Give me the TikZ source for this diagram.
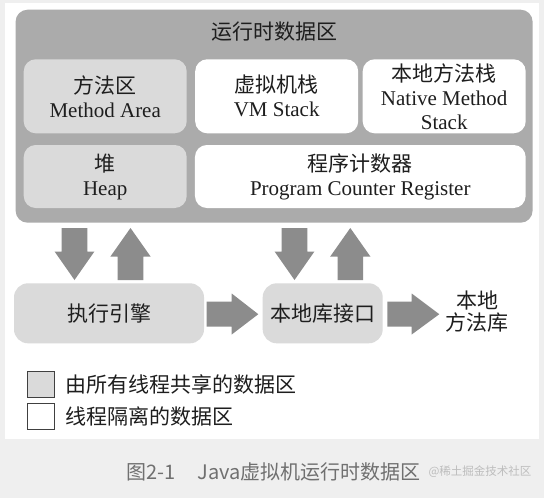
\documentclass[tikz,border=0pt]{standalone}
\usepackage{fontspec}
\setmainfont{Liberation Serif}
\newfontfamily\cjk{Noto Sans CJK SC}
\definecolor{bggray}{HTML}{EFEFEF}
\definecolor{outergray}{HTML}{ABABAB}
\definecolor{sharedgray}{HTML}{DADADA}
\definecolor{arrowgray}{HTML}{8C8C8C}
\definecolor{textcol}{HTML}{1E1E1E}
\definecolor{capcol}{HTML}{707070}
\definecolor{markcol}{HTML}{BDBDBD}
\newcommand\blkdown[1]{%
  \fill[blockarrow] ({#1-12.8},228) -- ({#1+12.8},228) -- ({#1+12.8},251.7) -- ({#1+19.8},251.7)
    -- (#1,280) -- ({#1-19.8},251.7) -- ({#1-12.8},251.7) -- cycle;}
\newcommand\blkup[1]{%
  \fill[blockarrow] ({#1-12.8},280) -- ({#1+12.8},280) -- ({#1+12.8},256.7) -- ({#1+20.2},256.7)
    -- (#1,228) -- ({#1-20.2},256.7) -- ({#1-12.8},256.7) -- cycle;}
\newcommand\blkright[3]{%
  \fill[blockarrow] (#1,301.7) -- (#2,301.7) -- (#2,293.5) -- (#3,314.2) -- (#2,334.5)
    -- (#2,326.7) -- (#1,326.7) -- cycle;}
\begin{document}
\begin{tikzpicture}[x=1pt,y=-1pt,
  lbl/.style={font=\fontsize{21}{24}\selectfont, text=textcol, align=center},
  area/.style={lbl, rounded corners=12pt, inner sep=0pt},
  shared/.style={area, fill=sharedgray},
  private/.style={area, fill=white},
  blockarrow/.style={fill=arrowgray},
  legendbox/.style={draw=black!75, line width=0.9pt, inner sep=0pt, minimum width=27pt, minimum height=25.5pt},
  legendtext/.style={lbl, anchor=west, inner sep=0pt}]
\useasboundingbox (0,0) rectangle (544,498);
\fill[bggray] (0,0) rectangle (544,498);
\fill[white] (5,3) rectangle (539,439);

% runtime data area
\node[area, fill=outergray, minimum width=517pt, minimum height=213pt] (rt) at (274.1,116.2) {};
\node[lbl] (title) at (274.1,32) {\cjk 运行时数据区};
\node[shared, minimum width=163pt, minimum height=74pt] (ma) at (105.2,96.3) {{\cjk 方法区}\\Method Area};
\node[private, minimum width=163pt, minimum height=74pt] (vm) at (276.7,96.3) {{\cjk 虚拟机栈}\\VM Stack};
\node[private, minimum width=163pt, minimum height=74pt] (nm) at (444.2,96.3) {{\cjk 本地方法栈}\\Native Method\\Stack};
\node[shared, minimum width=163pt, minimum height=63pt] (heap) at (105.2,176.5) {{\cjk 堆}\\Heap};
\node[private, minimum width=330.7pt, minimum height=63pt] (pc) at (360.3,176.5) {{\cjk 程序计数器}\\Program Counter Register};

% lower row
\node[shared, rounded corners=14pt, minimum width=190pt, minimum height=60pt] (exec) at (109,313.3) {\cjk 执行引擎};
\node[shared, rounded corners=14pt, minimum width=120pt, minimum height=60pt] (nif) at (322.7,313.3) {\cjk 本地库接口};
\node[lbl, font=\fontsize{21}{22}\selectfont] (lib) at (477,311.5) {\cjk 本地\\\cjk 方法库};

% block arrows
\blkdown{74.5}
\blkup{130.5}
\blkdown{294.5}
\blkup{350.3}
\blkright{206.7}{231.7}{258.3}
\blkright{387.3}{411.7}{439.3}

% legend
\node[legendbox, fill=sharedgray] (lg1) at (40.7,384.5) {};
\node[legendbox, fill=white] (lg2) at (40.7,416.3) {};
\node[legendtext] (lt1) at (65,384.5) {\cjk 由所有线程共享的数据区};
\node[legendtext] (lt2) at (65,416.3) {\cjk 线程隔离的数据区};

% caption
\node[font=\cjk\fontsize{20}{22}\selectfont, text=capcol, inner sep=0pt] (cap) at (273.5,471.5) {图2-1\hspace{1.1em}Java虚拟机运行时数据区};
\node[font=\cjk\fontsize{11.5}{13}\selectfont, text=markcol, inner sep=0pt] (wm) at (480,472) {@稀土掘金技术社区};
\end{tikzpicture}
\end{document}
